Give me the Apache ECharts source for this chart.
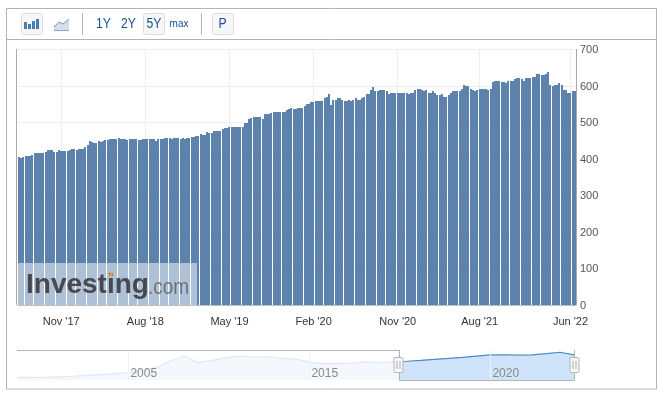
<!DOCTYPE html>
<html><head><meta charset="utf-8">
<style>html,body{margin:0;padding:0;background:#fff}#c{width:665px;height:395px}</style>
<script src="https://cdn.jsdelivr.net/npm/echarts@6/dist/echarts.min.js"></script>
</head><body><div id="c"></div>
<script>
const values = [
405,403,406,407,407,407,410,416,416,416,416,416,418,424,424,424,418,418,424,421,421,421,421,424,427,427,425,428,428,428,433,437,448,446,444,444,448,447,449,451,451,454,454,454,456,458,456,454,454,451,454,454,456,456,451,451,454,456,454,454,454,454,448,
454,456,454,457,457,457,455,457,457,457,455,457,454,457,458,459,459,462,462,468,465,465,473,470,470,476,478,477,478,481,484,484,487,487,487,489,489,487,489,498,500,509,512,515,515,515,514,510,522,522,522,525,528,528,528,528,528,530,533,536,539,536,536,
539,539,541,544,552,552,555,555,558,558,558,558,566,571,577,547,561,561,566,566,563,558,558,561,558,561,566,563,563,566,569,577,577,588,596,585,585,588,588,588,585,577,580,580,580,580,582,580,580,580,577,582,582,588,591,593,588,586,588,582,582,585,582,
574,574,577,571,569,574,580,585,585,585,585,593,602,599,599,591,588,585,588,593,591,593,593,588,591,610,615,615,615,612,610,607,615,615,615,618,621,621,618,615,621,621,621,626,626,632,634,629,629,634,637,602,599,602,604,607,602,588,588,580,580,585,585];
const tickIndex = [19,57,95,133,171,208,249];
const tickLabels = ["Nov '17","Aug '18","May '19","Feb '20","Nov '20","Aug '21","Jun '22"];
const navValues = [27,28,30,42,55,75,95,118,145,195,262,420,545,385,438,500,545,520,525,485,468,395,362,358,375,398,388,405,418,440,464,485,510,540,570,575,565,570,600,635,570];
const navTickIndex = [8,21,34];
const navTickLabels = ["2005","2015","2020"];
const rangeButtons = ["1Y","2Y","5Y","max","P"];

const categories = values.map((_, i) => { const k = tickIndex.indexOf(i); return k >= 0 ? tickLabels[k] : ''; });
const navCategories = navValues.map((_, i) => { const k = navTickIndex.indexOf(i); return k >= 0 ? navTickLabels[k] : ''; });
const FONT = '"Liberation Sans", Arial, sans-serif';
const GRAY = '#b4b4b4', BLUE = '#114f96';
const splitStop = (399 - 17) / 557;
const hard = (a, b) => new echarts.graphic.LinearGradient(0, 0, 1, 0, [
  {offset: 0, color: a}, {offset: splitStop, color: a}, {offset: splitStop, color: b}, {offset: 1, color: b}]);

const Z = 60;
const line = (x1, y1, x2, y2, stroke = GRAY) => ({type: 'line', silent: true, z: Z, shape: {x1, y1, x2, y2}, style: {stroke, lineWidth: 1}});
const box = (x, y, width, height, fill, stroke, r = 2) => ({type: 'rect', silent: true, z: Z, shape: {x, y, width, height, r}, style: {fill, stroke, lineWidth: 1}});
const solid = (x, y, width, height, fill) => ({type: 'rect', silent: true, z: Z, shape: {x, y, width, height}, style: {fill}});
const label = (text, x, y, size, fill, scaleX = 1) => ({type: 'text', silent: true, z: Z, x, y, scaleX, style: {text, fill, font: `${size}px ${FONT}`, align: 'center', verticalAlign: 'middle'}});

const handle = cx => [
  box(cx - 4.5, 357.5, 9, 15, '#f8f8f8', GRAY, 1),
  line(cx - 1.5, 361, cx - 1.5, 369, '#aaa'),
  line(cx + 1.5, 361, cx + 1.5, 369, '#aaa')
];

const graphics = [
  box(6.5, 8.5, 650, 380.5, 'transparent', GRAY, 0),
  line(6.5, 39.5, 657, 39.5),
  box(21.5, 13.5, 21, 21, '#f7f7f7', '#ddd'),
  solid(24, 22, 3, 7, '#4a7cb4'), solid(28, 24, 3, 5, '#4a7cb4'), solid(32, 21, 3, 8, '#4a7cb4'), solid(36, 19, 3, 10, '#4a7cb4'),
  {type: 'polygon', silent: true, z: Z, shape: {points: [[54, 27], [59, 22], [63, 24], [69, 19], [69, 31], [54, 31]]}, style: {fill: '#d5deea'}},
  {type: 'polyline', silent: true, z: Z, shape: {points: [[54, 27], [59, 22], [63, 24], [69, 19]]}, style: {stroke: '#6f93bd', fill: null, lineWidth: 1}},
  line(54, 30.5, 69, 30.5, '#8aa6c8'),
  line(82.5, 13, 82.5, 35),
  line(201.5, 13, 201.5, 35),
  box(143.5, 13.5, 21, 21, '#f7f7f7', '#ddd'),
  box(212.5, 13.5, 21, 21, '#f7f7f7', '#ddd'),
  label(rangeButtons[0], 103.5, 24, 14, BLUE, 0.87),
  label(rangeButtons[1], 128.5, 24, 14, BLUE, 0.87),
  label(rangeButtons[2], 154, 24, 14, BLUE, 0.87),
  label(rangeButtons[3], 179, 24, 10, BLUE),
  label(rangeButtons[4], 222.5, 24, 14, BLUE, 0.87),
  line(16.5, 49, 16.5, 305, '#aaa'),
  line(576.5, 49, 576.5, 305, '#aaa'),
  solid(17, 263, 180, 42, 'rgba(255,255,255,0.5)'),
  {type: 'text', silent: true, z: Z + 1, x: 26, y: 285, style: {text: 'Investing', fill: 'rgba(62,62,68,0.92)', font: `bold 28px ${FONT}`, align: 'left', verticalAlign: 'middle'}},
  {type: 'text', silent: true, z: Z + 1, x: 148, y: 288, scaleX: 0.86, style: {text: '.com', fill: 'rgba(90,92,100,0.8)', font: `22px ${FONT}`, align: 'left', verticalAlign: 'middle'}},
  {type: 'polygon', silent: true, z: Z + 2, shape: {points: [[108, 277], [111, 272], [114, 272], [111, 277]]}, style: {fill: '#e0aa50'}},
  line(17, 350.5, 399, 350.5),
  line(399.5, 350, 399.5, 380.5),
  line(399, 380.5, 574.5, 380.5),
  line(574.5, 350, 574.5, 380.5),
  ...handle(398.5), ...handle(574.5)
];

const chart = echarts.init(document.getElementById('c'), null, {renderer: 'canvas'});
chart.setOption({
  animation: false,
  backgroundColor: '#fff',
  grid: [
    {left: 18, right: 89, top: 49.5, bottom: 90},
    {left: 17, right: 91, top: 350, bottom: 15}
  ],
  xAxis: [
    {type: 'category', gridIndex: 0, data: categories, boundaryGap: true,
     axisLine: {show: true, lineStyle: {color: '#c0c0c0'}}, axisTick: {show: false},
     axisLabel: {interval: i => tickIndex.includes(i), hideOverlap: false, margin: 11, color: '#333', fontSize: 11, fontFamily: FONT},
     splitLine: {show: true, alignWithLabel: true, interval: i => tickIndex.includes(i), lineStyle: {color: '#eeeeee'}}},
    {type: 'category', gridIndex: 1, z: 5, data: navCategories, boundaryGap: false,
     axisLine: {show: false}, axisTick: {show: false},
     axisLabel: {inside: true, interval: i => navTickIndex.includes(i), margin: 0, color: '#888', fontSize: 12, fontFamily: FONT, align: 'left', padding: [0, 0, 0, 2]},
     splitLine: {show: true, interval: i => navTickIndex.includes(i), lineStyle: {color: '#f0f0f0'}}}
  ],
  yAxis: [
    {type: 'value', gridIndex: 0, position: 'right', min: 0, max: 700, interval: 100,
     axisLine: {show: false}, axisTick: {show: false},
     axisLabel: {margin: 4, color: '#555', fontSize: 11, fontFamily: FONT, verticalAlign: 'top', padding: [-5, 0, 0, 0]},
     splitLine: {lineStyle: {color: '#eeeeee'}}},
    {type: 'value', gridIndex: 1, min: -36, max: 690, show: false}
  ],
  series: [
    {type: 'custom', xAxisIndex: 0, yAxisIndex: 0, encode: {x: 0, y: 1}, clip: false,
     data: values.map((v, i) => [i, v]),
     renderItem(params, api) {
       const p = api.coord([api.value(0), api.value(1)]);
       const base = api.coord([api.value(0), 0]);
       const w = api.size([1, 0])[0];
       const x = Math.round(p[0] - w / 2);
       const y = Math.round(p[1]);
       return {type: 'rect', shape: {x, y, width: Math.floor(w), height: Math.round(base[1]) - y}, style: {fill: '#5d82ac'}};
     }},
    {type: 'line', xAxisIndex: 1, yAxisIndex: 1, data: navValues, showSymbol: false, silent: true,
     lineStyle: {width: 1.2, color: hard('#dde9f4', '#4a8ac6')},
     areaStyle: {opacity: 1, origin: 'start', color: hard('#f4f8fd', '#cfe3fb')}}
  ],
  graphic: {elements: graphics}
});
</script></body></html>
